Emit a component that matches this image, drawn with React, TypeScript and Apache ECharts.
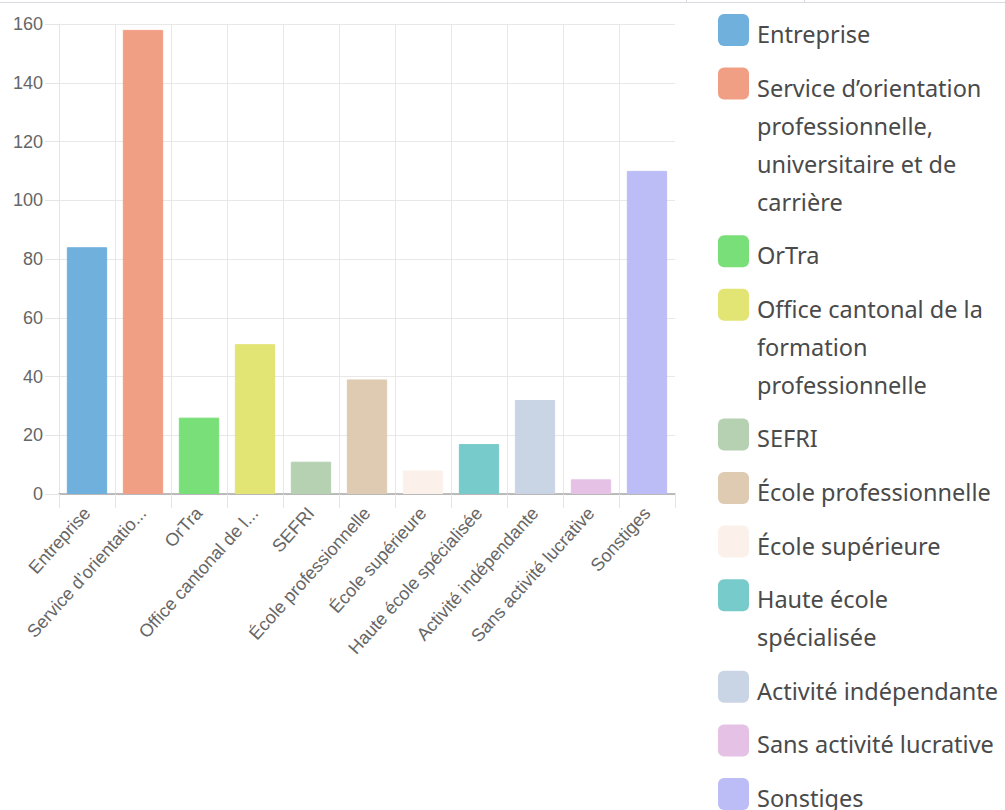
import React, { useEffect, useRef } from "react";
import * as echarts from "echarts";

const categories = [
  "Entreprise",
  "Service d’orientation professionnelle, universitaire et de carrière",
  "OrTra",
  "Office cantonal de la formation professionnelle",
  "SEFRI",
  "École professionnelle",
  "École supérieure",
  "Haute école spécialisée",
  "Activité indépendante",
  "Sans activité lucrative",
  "Sonstiges",
];

const values = [84, 158, 26, 51, 11, 39, 8, 17, 32, 5, 110];

const colors = [
  "#6fb0dd",
  "#f19f84",
  "#79df78",
  "#e2e474",
  "#b6d0b2",
  "#dfcbb2",
  "#fcf0ea",
  "#77cbca",
  "#c9d5e5",
  "#e5c2e5",
  "#bcbcf6",
];

const legendLines = [
  ["Entreprise"],
  ["Service d’orientation", "professionnelle,", "universitaire et de", "carrière"],
  ["OrTra"],
  ["Office cantonal de la", "formation", "professionnelle"],
  ["SEFRI"],
  ["École professionnelle"],
  ["École supérieure"],
  ["Haute école", "spécialisée"],
  ["Activité indépendante"],
  ["Sans activité lucrative"],
  ["Sonstiges"],
];

const yTicks = [0, 20, 40, 60, 80, 100, 120, 140, 160];

export default function App() {
  const ref = useRef<HTMLDivElement>(null);
  useEffect(() => {
    if (!ref.current) return;
    const chart = echarts.init(ref.current, null, { renderer: "svg" });

    const LH = 38;
    const GAP = 15.6;
    const graphics: any[] = [];
    let y = 15;
    legendLines.forEach((lines, i) => {
      graphics.push({
        type: "rect",
        shape: { x: 718, y: y - 1, width: 31, height: 32, r: 6 },
        style: { fill: colors[i] },
      });
      graphics.push({
        type: "text",
        x: 757,
        y: y,
        style: {
          text: lines.join("\n"),
          fontFamily: "Noto Sans",
          fontSize: 23.5,
          lineHeight: LH,
          fill: "#4a4a4a",
          verticalAlign: "top",
          align: "left",
        },
      });
      y += lines.length * LH + GAP;
    });
    graphics.push({
      type: "line",
      shape: { x1: 0, y1: 2.5, x2: 1005, y2: 2.5 },
      style: { stroke: "#d9d9e0", lineWidth: 1 },
    });
    graphics.push({
      type: "line",
      shape: { x1: 686.5, y1: 0, x2: 686.5, y2: 3 },
      style: { stroke: "#d9d9e0", lineWidth: 1 },
    });
    graphics.push({
      type: "line",
      shape: { x1: 804.5, y1: 0, x2: 804.5, y2: 3 },
      style: { stroke: "#d9d9e0", lineWidth: 1 },
    });

    chart.setOption({
      animation: false,
      grid: { left: 59, right: 330, top: 24, bottom: 316, containLabel: false },
      xAxis: {
        type: "category",
        data: categories,
        boundaryGap: true,
        axisLine: { show: true, lineStyle: { color: "#a8a8a8", width: 1.5 } },
        axisTick: { show: true, length: 14, alignWithLabel: false, lineStyle: { color: "#e4e4e4" } },
        splitLine: { show: true, showMaxLine: false, lineStyle: { color: "#e8e8e8" } },
        axisLabel: {
          interval: 0,
          rotate: 48,
          margin: 16,
          color: "#666",
          fontFamily: "Liberation Sans, Arial, sans-serif",
          fontSize: 18,
          formatter: (v: string) => (v.length > 25 ? v.slice(0, 20) + "..." : v),
        },
      },
      yAxis: {
        type: "value",
        min: 0,
        max: 160,
        interval: 20,
        axisLine: { show: true, lineStyle: { color: "#e4e4e4" } },
        axisTick: { show: true, length: 14, lineStyle: { color: "#e4e4e4" } },
        splitLine: { show: true, lineStyle: { color: "#e8e8e8" } },
        axisLabel: {
          margin: 16,
          color: "#666",
          fontFamily: "Liberation Sans, Arial, sans-serif",
          fontSize: 18,
          formatter: (v: number) => (yTicks.includes(v) ? String(v) : ""),
        },
      },
      series: [
        {
          type: "bar",
          barWidth: "72%",
          data: values.map((v, i) => ({
            value: v,
            itemStyle: { color: colors[i], borderColor: colors[i], borderWidth: 1, opacity: 1 },
          })),
        },
      ],
      graphic: graphics,
    });
    return () => chart.dispose();
  }, []);
  return <div ref={ref} style={{ width: 1005, height: 810, position: "absolute", left: 0, top: 0 }} />;
}
